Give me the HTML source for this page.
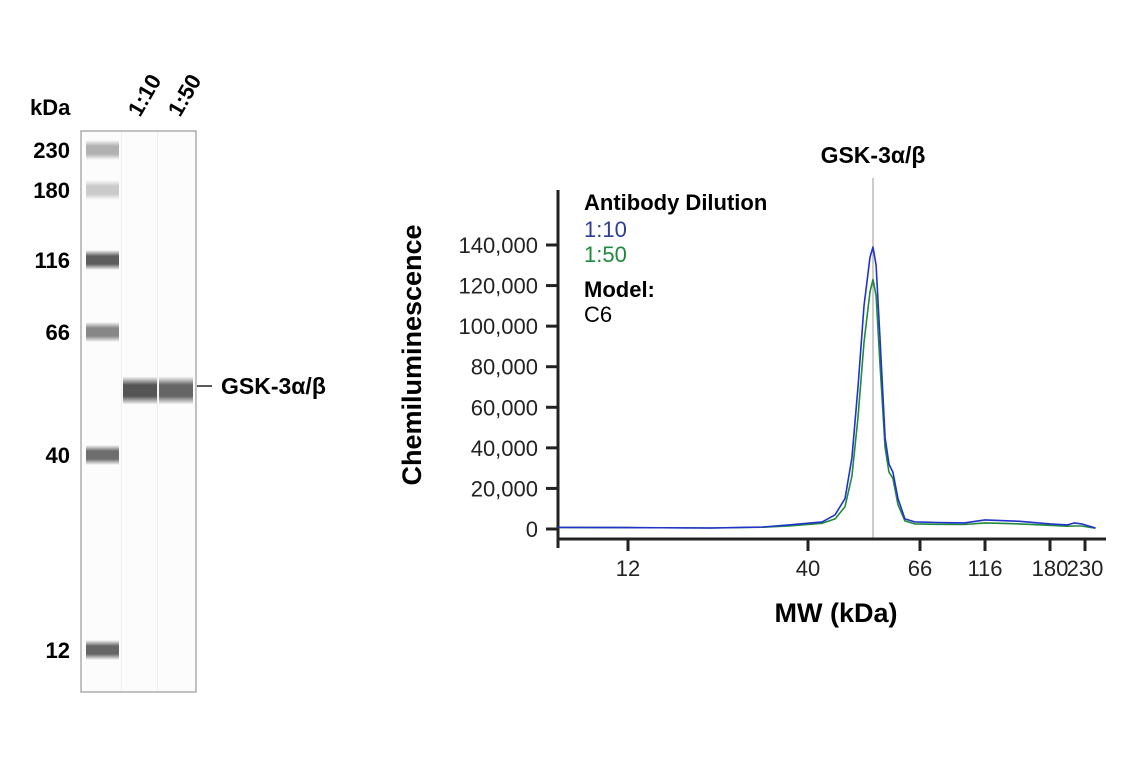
<!DOCTYPE html>
<html><head><meta charset="utf-8">
<style>
html,body{margin:0;padding:0;background:#fff;}
svg{display:block;font-family:"Liberation Sans Narrow","Liberation Sans",sans-serif;}
</style></head>
<body>
<svg id="fig" width="1141" height="768" viewBox="0 0 1141 768">
  <defs>
    <linearGradient id="bandG" x1="0" y1="0" x2="0" y2="1">
      <stop offset="0" stop-color="#555" stop-opacity="0"/>
      <stop offset="0.3" stop-color="#555" stop-opacity="1"/>
      <stop offset="0.7" stop-color="#555" stop-opacity="1"/>
      <stop offset="1" stop-color="#555" stop-opacity="0"/>
    </linearGradient>
  </defs>
  <g id="blot">
    <text x="30" y="115" font-size="22" font-weight="bold">kDa</text>
    <text x="0" y="0" font-size="22" font-weight="bold" transform="translate(140,118) rotate(-60)">1:10</text>
    <text x="0" y="0" font-size="22" font-weight="bold" transform="translate(180,118) rotate(-60)">1:50</text>
    <rect x="81" y="131" width="115" height="561" fill="#fcfcfc" stroke="#999" stroke-width="1.2"/>
    <rect x="121" y="132" width="1" height="559" fill="#eee"/>
    <rect x="157" y="132" width="1" height="559" fill="#eee"/>
    <g id="ladder"></g>
    <g id="samples"></g>
    <line x1="197" y1="386" x2="212" y2="386" stroke="#222" stroke-width="1.5"/>
    <text x="221" y="394" font-size="23" font-weight="bold">GSK-3α/β</text>
  </g>
  <g id="chart">
    <text x="873" y="163" font-size="23" font-weight="bold" text-anchor="middle">GSK-3α/β</text>
    <line x1="873" y1="178" x2="873" y2="540" stroke="#999" stroke-width="1"/>
    <g id="yaxis"></g>
    <g id="xaxis"></g>
    <g id="lines"></g>
    <text transform="translate(421,355) rotate(-90)" font-size="27" font-weight="bold" text-anchor="middle">Chemiluminescence</text>
    <text x="836" y="622" font-size="27" font-weight="bold" text-anchor="middle">MW (kDa)</text>
    <g>
      <text x="584" y="210" font-size="22" font-weight="bold">Antibody Dilution</text>
      <text x="584" y="237" font-size="22" fill="#2e3d95">1:10</text>
      <text x="584" y="262" font-size="22" fill="#1e8a3c">1:50</text>
      <text x="584" y="297" font-size="22" font-weight="bold">Model:</text>
      <text x="584" y="322" font-size="22">C6</text>
    </g>
  </g>
</svg>
<script>
// ---- blot data ----
const ladderLabels = ["230","180","116","66","40","12"];
const ladderY = [150,190,260,332,455,650];
const ladderOpacity = [0.45,0.3,0.95,0.7,0.85,0.9];
const sampleBandKDa = 52;
const sampleIntensity = [1.0, 0.9];

// ---- chart data ----
const yTicks = [0,20000,40000,60000,80000,100000,120000,140000];
const xTickLabels = ["12","40","66","116","180","230"];
const xTickMW = [12,40,66,116,180,230];
const mwPoints = [2,12,25,33,37,43.3,46.3,48.6,50.2,51.6,53,54.4,55.1,55.8,56.7,57.9,58.8,59.7,60.9,62.5,64.8,80,100,116,150,180,205,215,225,245];
const blueValues = [800,700,500,1000,2000,3500,7000,15000,35000,70000,110000,134000,139000,130000,95000,45000,32000,28000,15000,5000,3500,3200,3000,4500,3800,2500,2000,3000,2500,500];
const greenValues = [800,700,500,900,1500,2800,5000,11000,26000,55000,92000,117000,123000,115000,82000,40000,28000,25000,12000,4000,2500,2300,2200,3000,2500,1800,1400,1500,1500,400];

const NS="http://www.w3.org/2000/svg";
function mk(tag, attrs, parent){const e=document.createElementNS(NS,tag);for(const k in attrs)e.setAttribute(k,attrs[k]);parent.appendChild(e);return e;}

const X0=558, Y0=529, PX_PER_UNIT=(529-245)/140000;
const tickPx=[628,808,920,985,1050,1085];
const domainMin=2;
function yScale(v){return Y0 - v*PX_PER_UNIT;}
function xScale(mw){
  const n=xTickMW.length;
  if(mw<xTickMW[0]) return X0+(mw-domainMin)/(xTickMW[0]-domainMin)*(tickPx[0]-X0);
  let i=0;
  if(mw>=xTickMW[n-1]) i=n-2; else {while(mw>xTickMW[i+1]) i++;}
  const t=(mw-xTickMW[i])/(xTickMW[i+1]-xTickMW[i]);
  return tickPx[i]+t*(tickPx[i+1]-tickPx[i]);
}
function blotY(mw){
  const kd=ladderLabels.map(Number);
  const l=Math.log(mw);
  for(let i=0;i<kd.length-1;i++){
    const a=Math.log(kd[i]), b=Math.log(kd[i+1]);
    if(l<=a && l>=b){return ladderY[i]+(a-l)/(a-b)*(ladderY[i+1]-ladderY[i]);}
  }
  return ladderY[ladderY.length-1];
}

const lad=document.getElementById('ladder');
const blot=document.getElementById('blot');
ladderLabels.forEach((lab,i)=>{
  const r=mk('rect',{x:86,y:ladderY[i]-10,width:33,height:20,fill:'url(#bandG)',opacity:ladderOpacity[i]},lad);
  
  
  const t=mk('text',{x:70,y:ladderY[i]+8,'font-size':22,'font-weight':'bold','text-anchor':'end'},blot);
  t.textContent=lab;
  
  
});
const sm=document.getElementById('samples');
const laneX=[122,158];
sampleIntensity.forEach((v,i)=>{
  const yc=blotY(sampleBandKDa);
  const r=mk('rect',{x:laneX[i]+1,y:yc-14,width:34,height:28,fill:'url(#bandG)',opacity:v},sm);
  
  
});

const ya=document.getElementById('yaxis');
const yl=mk('line',{x1:X0,y1:190,x2:X0,y2:548,stroke:'#222','stroke-width':3},ya);


yTicks.forEach(v=>{
  const y=yScale(v);
  const l=mk('line',{x1:546,y1:y,x2:X0,y2:y,stroke:'#222','stroke-width':3},ya);
  
  
  const t=mk('text',{x:538,y:y+8,'font-size':22,'text-anchor':'end',fill:'#222'},ya);
  t.textContent=v.toLocaleString('en-US');
  
  
});
const xa=document.getElementById('xaxis');
const xl=mk('line',{x1:X0-1.5,y1:539,x2:1106,y2:539,stroke:'#222','stroke-width':3},xa);


xTickMW.forEach((mw,i)=>{
  const x=xScale(mw);
  const l=mk('line',{x1:x,y1:539,x2:x,y2:551,stroke:'#222','stroke-width':3},xa);
  
  
  const t=mk('text',{x:x,y:576,'font-size':22,'text-anchor':'middle',fill:'#222'},xa);
  t.textContent=xTickLabels[i];
  
  
});
const lg=document.getElementById('lines');
function drawSeries(vals,color,name){
  const d=mwPoints.map((mw,i)=>(i?'L':'M')+xScale(mw).toFixed(1)+','+yScale(vals[i]).toFixed(1)).join(' ');
  const p=mk('path',{d:d,fill:'none',stroke:color,'stroke-width':1.6,'stroke-linejoin':'round'},lg);
  
  
}
drawSeries(greenValues,'#1e8a3c','series-1-50');
drawSeries(blueValues,'#2233cc','series-1-10');
</script>
</body></html>
